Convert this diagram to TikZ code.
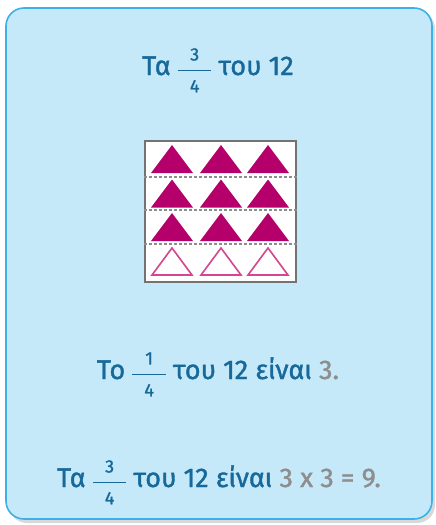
\documentclass[tikz,border=0pt]{standalone}
\usepackage{fontspec}
\setmainfont{Fira Sans}[FakeBold=1.3]
\usetikzlibrary{calc}

\definecolor{boxfill}{HTML}{C6E9FA}
\definecolor{boxline}{HTML}{3CB1E8}
\definecolor{txtblue}{HTML}{17699A}
\definecolor{ansgray}{HTML}{8E8E8E}
\definecolor{trimag}{HTML}{B5006B}
\definecolor{tririm}{HTML}{D2478F}

\newcommand\frc[2]{\raisebox{-4pt}{\ensuremath{\vcenter{\hbox{\fontsize{18}{18}\selectfont
  \begin{tabular}{@{\hspace{12pt}}c@{\hspace{12pt}}}#1\\[4pt]\hline\rule{0pt}{22pt}#2\end{tabular}}}}}}
\newcommand\ans[1]{\textcolor{ansgray}{#1}}

\tikzset{
  txtline/.style={anchor=base,text=txtblue,inner sep=0pt,font=\fontsize{27}{32}\selectfont},
  fulltri/.style={fill=trimag},
  emptytri/.style={draw=tririm,line width=1.6pt,fill=white}
}

\begin{document}
\begin{tikzpicture}[x=1pt,y=-1pt,line width=.8pt]
\useasboundingbox (0,0) rectangle (436,525);
% card with a light shadow
\fill[black!25,opacity=.6,rounded corners=18pt] (9,11) rectangle (435,523);
\draw[boxline,fill=boxfill,line width=1.6pt,rounded corners=18pt] (6,8) rectangle (432,519);

\node[txtline] (title) at (218,75) {Τα \frc{3}{4} του 12};

% the twelve triangles in four rows
\node[draw=black!55,fill=white,line width=1.2pt,minimum width=151,minimum height=141,inner sep=0pt] (grid) at (220.5,211.5) {};
\foreach \y in {177,210,244}
  \draw[black!45,line width=1.1pt,dash pattern=on 3pt off 2pt] (grid.west |- 0,\y) -- (grid.east |- 0,\y);
\foreach \c in {159,193.5,227}
  \foreach \x in {172,221,268}
    \fill[fulltri] (\x-21,\c+14) -- (\x,\c-14) -- (\x+21,\c+14) -- cycle;
\foreach \x in {172,221,268}
  \draw[emptytri] (\x-20,275) -- (\x,248) -- (\x+20,275) -- cycle;

\node[txtline] (quarter) at (218,379) {Το \frc{1}{4} του 12 είναι \ans{3.}};
\node[txtline] (answer) at (219,487) {Τα \frc{3}{4} του 12 είναι \ans{3 x 3 = 9.}};
\end{tikzpicture}
\end{document}
